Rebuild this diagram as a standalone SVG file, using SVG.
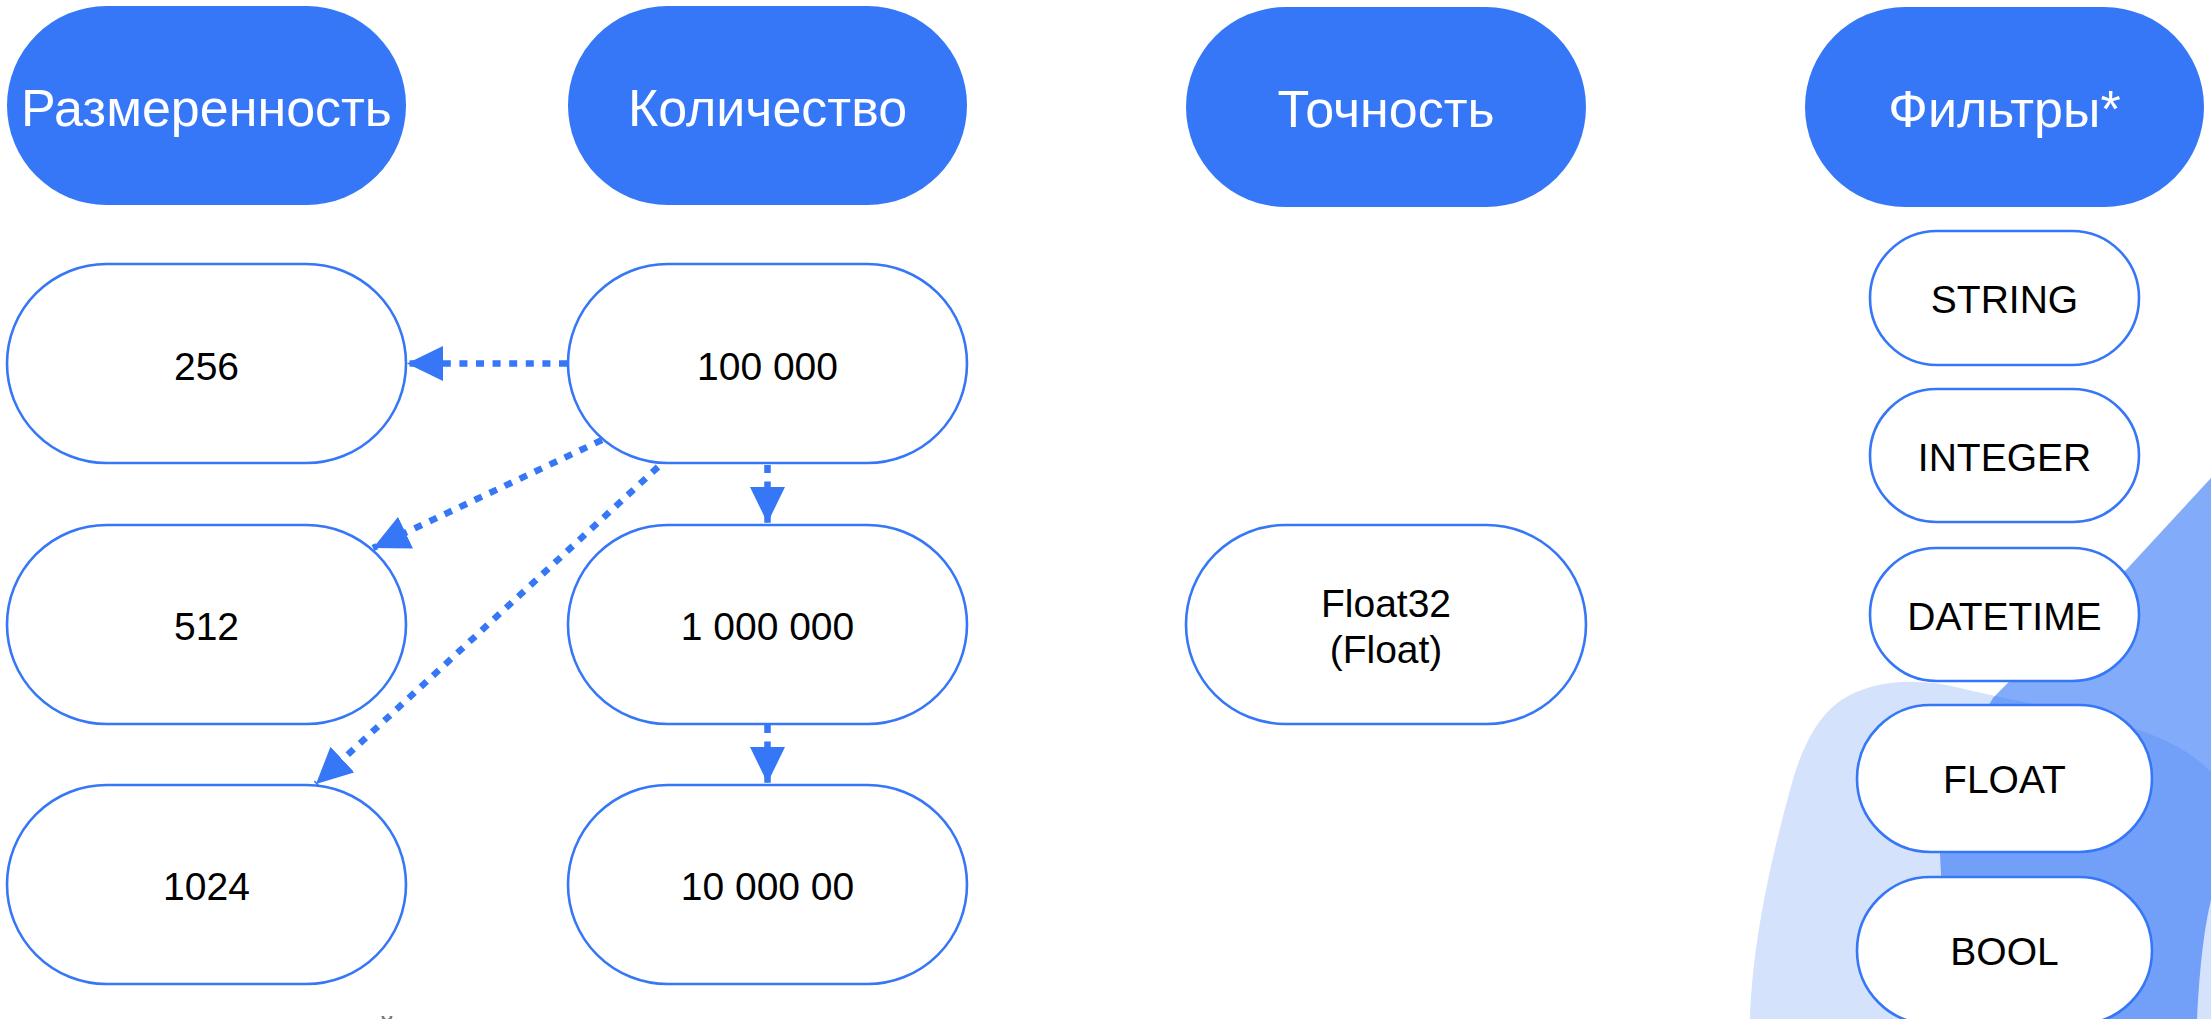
<svg xmlns="http://www.w3.org/2000/svg" width="2211" height="1019" viewBox="0 0 2211 1019">
  <style>
    .head rect { fill: #3677F7; }
    .head text { fill: #FFFFFF; font-family: "Liberation Sans", Arial, sans-serif; font-size: 52px; text-anchor: middle; }
    .item rect { fill: #FFFFFF; stroke: #3677F7; stroke-width: 2.6; }
    .item text { fill: #000000; font-family: "Liberation Sans", Arial, sans-serif; font-size: 39px; text-anchor: middle; }
    .edge { fill: none; stroke: #3677F7; stroke-width: 6.5; stroke-dasharray: 8 8.6; marker-end: url(#arrow); }
  </style>
  <defs>
    <marker id="arrow" viewBox="0 0 36 35" refX="36" refY="17.5" markerWidth="36" markerHeight="35" markerUnits="userSpaceOnUse" orient="auto">
      <path d="M0,0 L36,17.5 L0,35 Z" fill="#3677F7"/>
    </marker>
  </defs>

  <rect width="2211" height="1019" fill="#FFFFFF"/>

  <!-- background blobs, lower right -->
  <g id="backdrop">
    <path d="M1750 1019 C1752 950 1768 870 1790 790 C1802 745 1820 710 1850 695 C1880 680 1920 678 1960 688 C2010 700 2080 712 2133 728 C2170 740 2195 755 2211 772 L2211 1019 Z" fill="#D4E2FB"/>
    <path d="M2211 478 L2127 569 C2080 612 2030 660 1993 698 C1968 740 1945 800 1940 854 C1942 900 1948 960 1950 1019 L2197 1019 C2200 960 2205 925 2211 900 Z" fill="#3677F7" fill-opacity="0.62"/>
  </g>

  <!-- column headers -->
  <g id="h-dimension" class="head">
    <rect x="7" y="6" width="399" height="199" rx="99.5"/>
    <text x="206.5" y="126">Размеренность</text>
  </g>
  <g id="h-count" class="head">
    <rect x="568" y="6" width="399" height="199" rx="99.5"/>
    <text x="767.5" y="126">Количество</text>
  </g>
  <g id="h-precision" class="head">
    <rect x="1186" y="7" width="400" height="200" rx="100"/>
    <text x="1386" y="127">Точность</text>
  </g>
  <g id="h-filters" class="head">
    <rect x="1805" y="7" width="399" height="200" rx="100"/>
    <text x="2004.5" y="127">Фильтры*</text>
  </g>

  <!-- dimension values -->
  <g id="dim-256" class="item">
    <rect x="7" y="264" width="399" height="199" rx="99.5"/>
    <text x="206.5" y="380">256</text>
  </g>
  <g id="dim-512" class="item">
    <rect x="7" y="525" width="399" height="199" rx="99.5"/>
    <text x="206.5" y="640">512</text>
  </g>
  <g id="dim-1024" class="item">
    <rect x="7" y="785" width="399" height="199" rx="99.5"/>
    <text x="206.5" y="900">1024</text>
  </g>

  <!-- count values -->
  <g id="cnt-100k" class="item">
    <rect x="568" y="264" width="399" height="199" rx="99.5"/>
    <text x="767.5" y="380">100 000</text>
  </g>
  <g id="cnt-1m" class="item">
    <rect x="568" y="525" width="399" height="199" rx="99.5"/>
    <text x="767.5" y="640">1 000 000</text>
  </g>
  <g id="cnt-10m" class="item">
    <rect x="568" y="785" width="399" height="199" rx="99.5"/>
    <text x="767.5" y="900">10 000 00</text>
  </g>

  <!-- precision -->
  <g id="prec-float32" class="item">
    <rect x="1186" y="525" width="400" height="199" rx="99.5"/>
    <text x="1386" y="617">Float32</text>
    <text x="1386" y="663">(Float)</text>
  </g>

  <!-- filter types -->
  <g id="f-string" class="item">
    <rect x="1870" y="231" width="269" height="134" rx="67"/>
    <text x="2004.5" y="313">STRING</text>
  </g>
  <g id="f-integer" class="item">
    <rect x="1870" y="389" width="269" height="133" rx="66.5"/>
    <text x="2004.5" y="471">INTEGER</text>
  </g>
  <g id="f-datetime" class="item">
    <rect x="1870" y="548" width="269" height="133" rx="66.5"/>
    <text x="2004.5" y="630">DATETIME</text>
  </g>
  <g id="f-float" class="item">
    <rect x="1857" y="705" width="295" height="147" rx="73.5"/>
    <text x="2004.5" y="793">FLOAT</text>
  </g>
  <g id="f-bool" class="item">
    <rect x="1857" y="877" width="295" height="147" rx="73.5"/>
    <text x="2004.5" y="965">BOOL</text>
  </g>

  <!-- connectors -->
  <g id="connectors">
    <path class="edge" d="M567 363.5 L407 363.5"/>
    <path class="edge" d="M602 440 L373 548"/>
    <path class="edge" d="M658 467 L316 784"/>
    <path class="edge" d="M767.5 465 L767.5 523"/>
    <path class="edge" d="M767.5 725 L767.5 783"/>
  </g>

  <!-- partly cut text at the lower edge -->
  <text x="387" y="1038" font-family="Liberation Sans, Arial, sans-serif" font-size="30" fill="#777777" text-anchor="middle">й</text>
</svg>
